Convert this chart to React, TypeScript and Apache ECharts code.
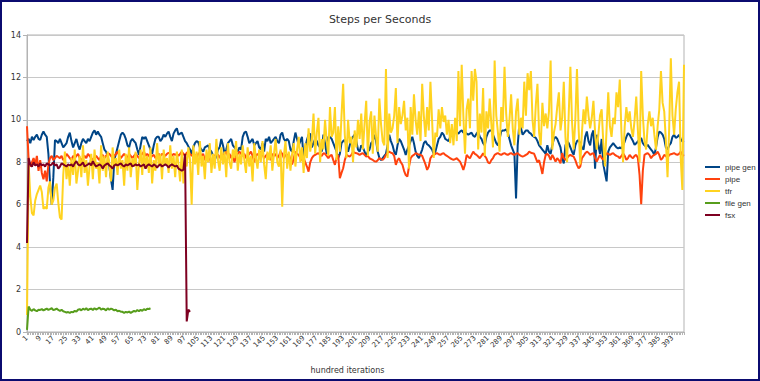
import React, { useEffect, useRef } from "react";
import * as echarts from "echarts";

const categories: string[] = Array.from({ length: 400 }, (_, i) => String(i + 1));

const pipeGen = [
  9.0, 9.1, 8.9, 9.2, 9.05, 9.2, 9.3, 9.1, 9.05, 9.3,
  9.45, 9.3, 9.2, 8.4, 7.0, 6.0, 7.3, 9.05, 9.0, 8.9,
  9.1, 8.9, 8.7, 8.8, 8.9, 9.2, 9.4, 9.0, 8.7, 8.9,
  9.1, 8.8, 8.6, 8.9, 9.1, 9.0, 8.9, 9.1, 9.0, 9.2,
  9.4, 9.5, 9.3, 9.45, 9.3, 9.2, 8.9, 8.6, 8.5, 8.3,
  7.8, 7.2, 6.7, 8.1, 8.4, 8.7, 9.0, 9.3, 9.4, 9.3,
  9.1, 8.8, 8.7, 9.0, 9.1, 9.0, 8.9, 8.6, 8.35, 8.8,
  9.2, 9.1, 9.2, 9.0, 8.8, 8.6, 8.4, 8.8, 9.1, 9.2,
  9.2, 9.0, 9.1, 9.3, 9.2, 9.35, 9.45, 9.2, 9.0, 9.35,
  9.5, 9.6, 9.3, 9.35, 9.4, 9.2, 9.0, 8.9, 8.75, 8.6,
  8.4, 8.7, 8.9, 9.0, 8.95, 8.7, 8.6, 8.5, 8.7, 8.75,
  8.8, 8.6, 8.5, 8.3, 8.1, 8.3, 8.6, 8.7, 9.1, 8.8,
  8.4, 8.6, 8.9, 9.0, 9.1, 8.8, 8.7, 8.6, 8.5, 8.7,
  8.6, 9.2, 9.4, 9.45, 9.2, 8.9, 9.0, 9.1, 8.8, 8.9,
  9.0, 8.7, 8.6, 8.9, 8.5, 9.1, 9.0, 9.2, 8.9, 9.0,
  9.1, 9.2, 9.0, 8.9, 9.3, 9.4, 9.1, 9.0, 9.1, 9.0,
  8.6, 8.5, 9.0, 9.4, 9.1, 8.8, 9.0, 9.2, 8.2, 8.7,
  9.05, 9.3, 9.35, 8.7, 8.9, 9.1, 9.0, 8.8, 8.7, 8.5,
  9.3, 8.9, 8.4, 9.2, 9.2, 9.1, 8.9, 8.7, 8.5, 8.2,
  8.4, 8.9, 9.0, 9.06, 8.8, 8.5, 8.8, 9.1, 9.2, 9.3,
  9.0, 8.6, 8.5, 8.8, 8.7, 8.5, 8.3, 8.5, 8.6, 8.9,
  9.0, 9.3, 9.0, 8.5, 8.2, 8.1, 8.2, 8.3, 8.4, 8.8,
  9.3, 9.0, 8.8, 8.5, 8.35, 8.8, 9.1, 9.0, 8.8, 8.6,
  8.35, 8.6, 8.8, 9.0, 9.2, 8.9, 8.5, 8.3, 8.2, 8.4,
  8.6, 8.9, 9.0, 8.85, 8.8, 8.7, 8.6, 8.4, 8.5, 8.8,
  9.1, 9.2, 9.4, 9.3, 9.1, 9.05, 9.0, 9.2, 9.3, 9.35,
  9.45, 9.4, 9.35, 9.45, 9.5, 9.4, 9.45, 9.35, 9.3, 9.35,
  9.4, 9.25, 9.2, 9.35, 9.45, 9.2, 9.1, 8.9, 8.8, 9.2,
  9.4, 9.5, 9.5, 9.3, 9.1, 8.9, 8.8, 9.1, 9.45, 9.5,
  9.5, 9.55, 9.4, 9.1, 8.8, 8.6, 8.4, 6.3, 8.8, 9.8,
  9.6, 9.3, 9.4, 9.5, 9.5, 9.4, 9.35, 9.25, 9.2, 9.15,
  9.0, 8.8, 8.7, 8.6, 8.5, 8.4, 8.8, 8.5, 8.4, 8.8,
  9.1, 9.2, 9.1, 8.9, 8.7, 8.2, 7.95, 8.8, 9.0, 8.9,
  8.7, 8.5, 8.35, 8.8, 9.0, 9.05, 8.9, 8.7, 8.6, 9.2,
  9.45, 9.0, 8.8, 9.3, 9.5, 7.7, 9.3, 8.8, 8.4, 9.1,
  7.9, 7.5, 7.1, 8.5, 8.7, 8.8, 8.9, 8.8, 8.7, 8.65,
  8.7, 8.65, 8.8, 8.98, 9.2, 9.37, 9.3, 9.14, 9.0, 8.82,
  8.9, 8.98, 9.1, 9.14, 8.9, 8.8, 8.74, 8.82, 8.7, 8.6,
  8.5, 8.35, 8.7, 9.2, 9.45, 9.4, 9.3, 9.1, 8.7, 8.6,
  8.8, 8.9, 9.2, 9.3, 9.15, 9.2, 9.29, 9.1, 8.98, 9.0,
];

const pipe = [
  9.7, 8.1, 7.8, 8.0, 8.2, 7.9, 8.3, 7.6, 8.1, 7.5,
  7.2, 7.6, 7.1, 7.9, 8.2, 8.3, 8.1, 8.2, 8.3, 8.25,
  8.2, 8.3, 8.1, 8.2, 8.4, 8.3, 8.2, 8.1, 8.3, 8.2,
  8.3, 8.4, 8.2, 8.1, 8.2, 8.3, 8.2, 8.4, 8.3, 8.2,
  8.1, 8.2, 8.3, 8.2, 8.1, 8.3, 8.35, 8.2, 8.3, 8.4,
  8.4, 8.3, 8.2, 8.3, 8.4, 8.5, 8.3, 8.2, 8.3, 8.4,
  8.3, 8.2, 8.4, 8.3, 8.2, 8.3, 8.4, 8.3, 8.2, 8.3,
  8.4, 8.5, 8.3, 8.4, 8.3, 8.2, 8.3, 8.35, 8.2, 8.3,
  8.4, 8.3, 8.4, 8.35, 8.3, 8.4, 8.45, 8.4, 8.3, 8.4,
  8.35, 8.4, 8.3, 8.4, 8.5, 8.4, 8.3, 8.45, 8.5, 8.4,
  8.3, 8.4, 8.35, 8.2, 8.4, 8.45, 8.3, 8.4, 8.1, 8.3,
  8.4, 8.2, 7.9, 8.1, 8.3, 8.4, 8.35, 8.2, 8.4, 8.3,
  8.4, 8.5, 8.3, 8.4, 8.2, 8.35, 8.0, 8.3, 8.4, 8.5,
  8.4, 8.3, 8.4, 8.2, 8.3, 8.4, 8.5, 8.3, 8.0, 8.3,
  8.4, 8.3, 8.5, 8.4, 8.2, 8.3, 8.4, 8.35, 8.1, 8.4,
  8.3, 8.4, 8.2, 8.3, 8.5, 8.4, 8.2, 8.35, 8.3, 8.4,
  8.1, 7.9, 8.2, 8.5, 8.4, 8.35, 8.2, 8.1, 8.2, 8.0,
  7.8, 7.56, 8.0, 8.2, 8.3, 8.35, 8.4, 8.43, 8.35, 8.3,
  8.43, 8.4, 8.3, 8.19, 8.3, 8.35, 8.1, 7.88, 8.2, 8.35,
  7.25, 7.5, 7.72, 8.1, 8.35, 8.3, 8.27, 8.35, 8.5, 8.45,
  8.43, 8.4, 8.35, 8.4, 8.43, 8.35, 8.27, 8.3, 8.19, 8.15,
  8.11, 8.05, 8.03, 8.1, 8.19, 8.15, 8.11, 8.2, 8.35, 8.45,
  8.5, 8.45, 8.43, 8.3, 7.88, 8.1, 8.19, 8.0, 7.88, 7.6,
  7.4, 7.33, 7.8, 8.19, 8.3, 8.35, 8.43, 8.4, 8.35, 8.35,
  8.3, 8.1, 7.9, 7.64, 7.8, 8.19, 8.3, 8.35, 8.4, 8.43,
  8.38, 8.35, 8.4, 8.43, 8.35, 8.3, 8.25, 8.19, 8.15, 8.11,
  8.15, 8.19, 8.11, 8.03, 7.85, 7.64, 7.9, 8.35, 8.25, 8.19,
  8.35, 8.5, 8.4, 8.35, 8.27, 8.19, 8.3, 8.43, 8.3, 8.19,
  8.0, 7.95, 8.1, 8.2, 8.35, 8.4, 8.43, 8.38, 8.35, 8.4,
  8.43, 8.38, 8.35, 8.4, 8.43, 8.38, 8.35, 8.4, 8.43, 8.35,
  8.3, 8.27, 8.3, 8.35, 8.4, 8.5, 8.45, 8.43, 8.4, 8.2,
  8.0, 8.1, 7.8, 7.45, 8.0, 8.35, 8.4, 8.3, 8.11, 8.35,
  8.2, 8.03, 8.19, 8.1, 7.95, 8.43, 8.2, 8.11, 8.19, 8.3,
  8.35, 8.3, 8.27, 8.1, 7.88, 7.72, 7.8, 8.19, 8.3, 8.43,
  8.5, 8.45, 8.35, 8.4, 8.43, 8.2, 8.03, 8.2, 8.35, 8.2,
  8.11, 8.3, 8.43, 8.4, 8.35, 8.4, 8.43, 8.35, 8.3, 8.27,
  8.19, 8.3, 8.43, 8.3, 8.11, 8.2, 8.35, 8.25, 8.19, 8.3,
  8.35, 8.2, 7.4, 6.03, 7.6, 8.35, 8.4, 8.43, 8.35, 8.19,
  8.3, 8.35, 8.4, 8.5, 8.35, 8.11, 8.2, 8.35, 8.3, 8.2,
  8.35, 8.38, 8.4, 8.43, 8.38, 8.35, 8.4, 8.5, 8.35, 8.3,
];

const tfr = [
  0.8, 7.9, 6.4, 5.6, 5.5, 6.2, 6.5, 6.7, 6.9, 6.6,
  5.8, 5.9, 5.8, 6.8, 7.1, 6.0, 6.2, 6.8, 7.0, 6.1,
  5.4, 5.3, 7.4, 8.5, 7.2, 7.9, 6.9, 8.2, 7.4, 8.6,
  7.0, 7.6, 8.3, 7.3, 8.8, 7.5, 8.1, 6.9, 7.8, 8.4,
  7.2, 8.6, 7.7, 8.0, 7.0, 8.8, 7.6, 8.3, 7.3, 8.5,
  7.9, 7.1, 8.7, 7.8, 8.2, 7.4, 8.6, 7.7, 8.1, 6.9,
  8.4, 7.6, 8.7, 7.3, 8.2, 7.8, 8.5, 6.7, 7.9, 8.6,
  7.4, 8.8, 7.7, 8.3, 7.5, 8.7, 7.0, 8.1, 7.6, 8.9,
  7.8, 8.4, 7.2, 8.6, 7.9, 8.2, 7.5, 8.8, 7.7, 8.3,
  7.3, 8.5, 7.9, 7.1, 8.6, 7.0, 8.4, 7.8, 8.7, 8.1,
  6.0, 8.8, 7.9, 8.5, 7.4, 9.0, 7.8, 8.3, 7.2, 8.6,
  8.0, 8.9, 7.5, 8.4, 7.7, 9.1, 8.1, 7.6, 8.7, 7.9,
  8.5, 7.3, 8.9, 8.0, 7.7, 8.6, 8.2, 9.0, 7.6, 8.4,
  7.9, 8.8, 8.1, 7.5, 8.7, 7.8, 8.3, 7.1, 8.9, 8.2,
  7.7, 8.6, 8.0, 9.0, 7.9, 7.2, 8.5, 8.1, 8.8, 7.6,
  8.4, 9.1, 8.0, 7.8, 8.6, 5.9, 8.3, 9.0, 7.7, 8.5,
  7.6, 8.4, 8.9, 7.8, 8.6, 9.2, 8.0, 8.7, 7.5, 8.9,
  8.2, 9.6, 8.5, 9.0, 10.3, 8.4, 9.4, 10.1, 8.0, 9.1,
  8.6, 10.0, 9.0, 8.3, 10.6, 9.2, 9.4, 10.6, 8.1, 9.7,
  8.5, 10.2, 11.7, 9.3, 8.2, 10.0, 8.9, 9.2, 8.0, 9.5,
  8.7, 10.0, 9.1, 10.3, 8.6, 9.8, 10.9, 8.3, 9.9, 10.4,
  8.4, 10.2, 9.2, 8.5, 11.0, 9.8, 9.0, 8.8, 12.4, 8.2,
  10.3, 9.4, 9.6, 10.2, 11.5, 8.9, 10.6, 9.8, 10.2, 10.9,
  9.5, 10.1, 7.7, 10.6, 9.3, 11.2, 10.0, 9.3, 10.4, 9.0,
  11.7, 10.2, 9.2, 10.6, 9.5, 11.8, 10.0, 8.2, 9.4, 9.2,
  10.5, 9.6, 10.6, 9.9, 10.2, 9.3, 10.0, 8.9, 9.8, 8.8,
  10.1, 9.0, 12.3, 9.7, 12.6, 10.2, 8.4, 10.5, 11.0, 9.6,
  12.3, 10.9, 12.4, 11.8, 8.6, 10.3, 9.4, 11.5, 8.3, 10.4,
  9.6, 11.0, 9.8, 8.7, 12.8, 10.2, 9.4, 8.5, 10.6, 9.9,
  12.5, 10.3, 9.2, 10.0, 11.2, 9.6, 8.8, 10.4, 11.0, 9.3,
  10.1, 9.6, 11.8, 10.2, 12.2, 11.4, 12.3, 10.0, 9.2, 10.7,
  11.7, 9.4, 8.8, 10.8, 9.7, 10.3, 9.6, 10.4, 12.8, 8.6,
  9.4, 9.8, 10.6, 11.3, 9.5, 10.1, 11.8, 9.2, 8.0, 10.3,
  12.5, 9.9, 8.6, 10.0, 12.4, 9.6, 7.9, 9.4, 10.5, 9.8,
  11.1, 10.2, 9.6, 10.1, 10.9, 9.4, 8.6, 9.3, 10.2, 10.5,
  8.9, 7.8, 9.6, 11.3, 9.7, 9.2, 10.1, 9.8, 11.3, 10.6,
  11.9, 9.4, 8.0, 9.7, 10.6, 9.9, 10.4, 9.6, 9.2, 10.0,
  11.1, 9.5, 8.0, 12.3, 10.2, 9.0, 8.6, 9.8, 10.4, 9.7,
  10.1, 9.3, 8.6, 9.7, 10.5, 12.3, 10.8, 10.4, 9.0, 7.3,
  9.6, 12.9, 10.2, 9.3, 10.5, 11.3, 11.8, 8.2, 6.7, 12.6,
];

const fileGen = [
  0.1, 1.2, 1.05, 1.0, 1.08, 1.02, 0.98, 1.05, 1.04, 1.08,
  1.02, 1.06, 1.1, 1.04, 1.08, 1.12, 1.03, 1.06, 1.1, 1.04,
  1.0, 1.05, 0.98, 0.95, 0.92, 0.94, 0.9, 0.95, 0.93, 1.0,
  0.96, 1.05, 1.08, 1.02, 1.1, 1.05, 1.12, 1.03, 1.08, 1.1,
  1.04, 1.12, 1.06, 1.1, 1.15, 1.05, 1.1, 1.08, 1.02, 1.12,
  1.05, 1.1, 1.07, 1.02, 1.05, 0.98, 1.0, 0.96, 0.95, 0.9,
  0.95, 0.92, 0.96, 0.9, 0.95, 1.0, 0.96, 1.04, 0.98, 1.05,
  1.0, 1.08, 1.03, 1.1, 1.08, 1.12,
];

const fsx = [
  4.2, 8.2, 7.9, 7.8, 8.0, 7.85, 7.9, 7.8, 7.95, 7.85,
  7.9, 7.8, 7.95, 7.9, 7.85, 7.9, 8.0, 7.85, 7.9, 7.7,
  7.8, 7.95, 7.9, 7.85, 7.8, 7.9, 7.85, 7.9, 7.8, 7.95,
  8.05, 7.9, 7.85, 7.9, 8.0, 7.8, 7.85, 7.9, 7.95, 7.85,
  8.05, 7.9, 7.8, 7.85, 7.9, 7.85, 7.7, 7.85, 7.9, 7.95,
  7.85, 7.8, 7.7, 7.85, 7.9, 7.85, 7.9, 7.95, 7.85, 7.8,
  7.9, 7.85, 7.9, 7.95, 7.8, 7.85, 7.9, 7.85, 7.9, 7.8,
  7.85, 7.9, 7.7, 7.85, 7.9, 7.85, 7.8, 7.9, 7.85, 7.75,
  7.85, 7.9, 7.8, 7.85, 7.9, 7.85, 7.75, 7.85, 7.9, 7.85,
  7.8, 7.85, 7.7, 7.65, 7.6, 7.65, 8.4, 0.5, 1.05, 0.95,
];

const seriesNames = ["pipe gen", "pipe", "tfr", "file gen", "fsx"];
const seriesColors = ["#004586", "#ff420e", "#ffd320", "#579d1c", "#7e0021"];
const seriesData = [pipeGen, pipe, tfr, fileGen, fsx];
const yTicks = { min: 0, max: 14, interval: 2 };

const FONT = "DejaVu Sans, Liberation Sans, sans-serif";
const LEGEND_FONT = "Liberation Sans, DejaVu Sans, sans-serif";

export default function App() {
  const ref = useRef<HTMLDivElement>(null);
  useEffect(() => {
    if (!ref.current) return;
    const chart = echarts.init(ref.current, undefined, { renderer: "svg" });
    chart.setOption({
      animation: false,
      backgroundColor: "#ffffff",
      textStyle: { fontFamily: FONT },
      title: {
        text: "Steps per Seconds",
        left: "center",
        top: 9,
        textStyle: { fontSize: 11, fontWeight: "normal", color: "#333333", fontFamily: FONT },
      },
      graphic: [
        {
          type: "rect",
          shape: { x: 1, y: 1, width: 758, height: 379 },
          style: { fill: "none", stroke: "#0b0b70", lineWidth: 2 },
          silent: true,
        },
      ],
      legend: {
        orient: "vertical",
        left: 700,
        top: 157,
        icon: "rect",
        itemWidth: 15,
        itemHeight: 2,
        itemGap: 2,
        textStyle: { fontSize: 8, color: "#333333", lineHeight: 10, fontFamily: LEGEND_FONT },
        data: seriesNames,
      },
      grid: {
        left: 27,
        right: 76,
        top: 35,
        bottom: 49,
        show: true,
        borderColor: "#b3b3b3",
        borderWidth: 1,
        containLabel: false,
      },
      xAxis: {
        type: "category",
        data: categories,
        boundaryGap: false,
        name: "hundred iterations",
        nameLocation: "middle",
        nameGap: 34,
        nameTextStyle: { fontSize: 8, color: "#333333", padding: [0, 16, 0, 0], fontFamily: FONT },
        axisLine: { show: true, lineStyle: { color: "#b3b3b3", width: 1 } },
        axisTick: { show: true, interval: 0, length: 3, lineStyle: { color: "#b3b3b3" } },
        axisLabel: { interval: 7, rotate: 45, fontSize: 7, color: "#333333", margin: 5, fontFamily: FONT },
        splitLine: { show: false },
      },
      yAxis: {
        type: "value",
        min: yTicks.min,
        max: yTicks.max,
        interval: yTicks.interval,
        axisLine: { show: true, lineStyle: { color: "#b3b3b3" } },
        axisTick: { show: true, length: 4, lineStyle: { color: "#b3b3b3" } },
        axisLabel: { fontSize: 8, color: "#333333", margin: 6, fontFamily: FONT },
        splitLine: { show: true, lineStyle: { color: "#c8c8c8", width: 1 } },
      },
      series: seriesNames.map((name, i) => ({
        name,
        type: "line",
        data: seriesData[i],
        symbol: "none",
        showSymbol: false,
        smooth: false,
        lineStyle: { color: seriesColors[i], width: 2 },
        itemStyle: { color: seriesColors[i] },
        z: 2 + i,
      })),
    });
    return () => chart.dispose();
  }, []);
  return (
    <div
      ref={ref}
      style={{ position: "fixed", left: 0, top: 0, width: 760, height: 381 }}
    />
  );
}
